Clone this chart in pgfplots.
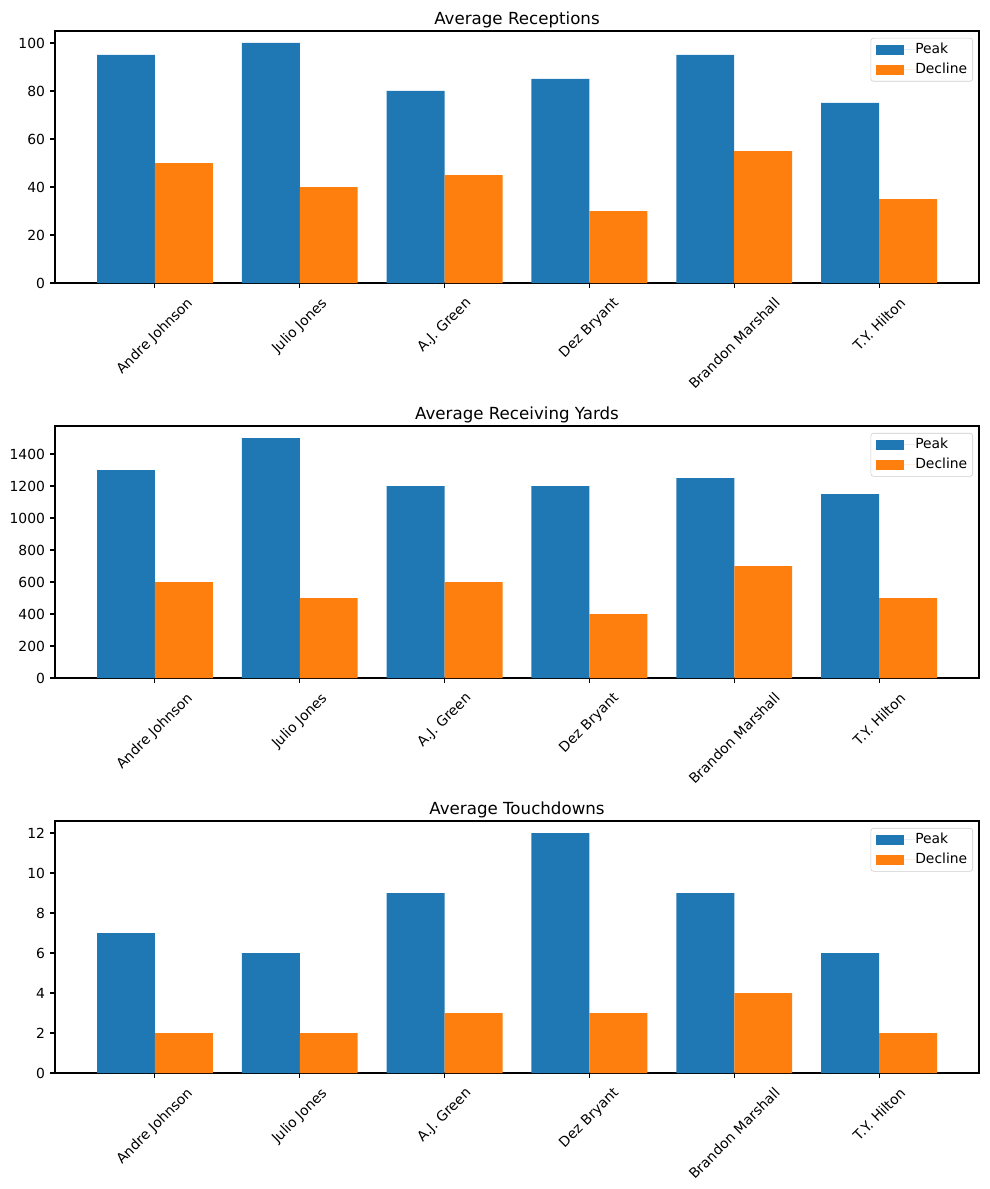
\documentclass[border=0pt]{standalone}
\usepackage{fontspec}
\setmainfont{DejaVu Sans}
\usepackage{graphicx}
\usepackage{pgfplots}
\pgfplotsset{compat=1.18}
\definecolor{cpeak}{HTML}{1F77B4}
\definecolor{cdec}{HTML}{FF7F0E}
\definecolor{lgframe}{HTML}{CCCCCC}
\pgfplotsset{
  mybar/.style={
    scale only axis, width=665.28pt, height=181.44pt, anchor=south west,
    xmin=-0.69, xmax=5.69, ymin=0,
    axis line style={line width=0.8pt},
    tick style={black, line width=0.8pt},
    tick align=outside, tick pos=left, major tick length=3.5pt,
    xtick={0,1,2,3,4,5},
    xticklabels={\rotatebox{45}{Andre Johnson},\rotatebox{45}{Julio Jones},\rotatebox{45}{A.J. Green},\rotatebox{45}{Dez Bryant},\rotatebox{45}{Brandon Marshall},\rotatebox{45}{T.Y. Hilton}},
    xticklabel style={anchor=north, inner sep=0pt, yshift=-6pt},
    yticklabel style={inner sep=3.5pt},
    ticklabel style={font=\fontsize{10}{12}\selectfont},
    /pgf/number format/assume math mode=true,
    /pgf/number format/1000 sep={},
    scaled y ticks=false,
    title style={at={(0.5,1)}, font=\fontsize{12}{14}\selectfont, inner sep=0pt, yshift=-4pt, anchor=south},
    legend style={at={(axis description cs:1,1)}, anchor=north east, xshift=-4.3pt, yshift=-5pt,
      draw=lgframe, rounded corners=2pt, fill=white, font=\fontsize{10}{12}\selectfont,
      inner xsep=4pt, inner ysep=3.5pt, row sep=5pt,
      nodes={inner sep=0pt, text height=7.5pt, text depth=2pt, sharp corners}},
    legend cell align=left,
    legend image code/.code={\fill[##1, sharp corners] (0pt,-3.5pt) rectangle (20pt,3.5pt); \path (0pt,0pt) -- (28pt,0pt);},
  },
  pk/.style={ybar, bar width=0.4, bar shift=0pt, fill=cpeak, draw=none},
  dc/.style={ybar, bar width=0.4, bar shift=0pt, fill=cdec, draw=none},
}
\begin{document}
\begin{tikzpicture}
\useasboundingbox (0,0) rectangle (712.08pt,-856.08pt);
\begin{axis}[mybar, at={(39.6pt,-203.76pt)}, ymax=105, ytick={0,20,40,60,80,100}, title={Average Receptions}]
\addplot[pk] coordinates {(-0.2,95) (0.8,100) (1.8,80) (2.8,85) (3.8,95) (4.8,75)};
\addlegendentry{Peak}
\addplot[dc] coordinates {(0.2,50) (1.2,40) (2.2,45) (3.2,30) (4.2,55) (5.2,35)};
\addlegendentry{Decline}
\end{axis}
\begin{axis}[mybar, at={(39.6pt,-488.16pt)}, ymax=1575, ytick={0,200,400,600,800,1000,1200,1400}, title={Average Receiving Yards}]
\addplot[pk] coordinates {(-0.2,1300) (0.8,1500) (1.8,1200) (2.8,1200) (3.8,1250) (4.8,1150)};
\addlegendentry{Peak}
\addplot[dc] coordinates {(0.2,600) (1.2,500) (2.2,600) (3.2,400) (4.2,700) (5.2,500)};
\addlegendentry{Decline}
\end{axis}
\begin{axis}[mybar, at={(39.6pt,-772.56pt)}, ymax=12.6, ytick={0,2,4,6,8,10,12}, title={Average Touchdowns}]
\addplot[pk] coordinates {(-0.2,7) (0.8,6) (1.8,9) (2.8,12) (3.8,9) (4.8,6)};
\addlegendentry{Peak}
\addplot[dc] coordinates {(0.2,2) (1.2,2) (2.2,3) (3.2,3) (4.2,4) (5.2,2)};
\addlegendentry{Decline}
\end{axis}
\end{tikzpicture}
\end{document}
